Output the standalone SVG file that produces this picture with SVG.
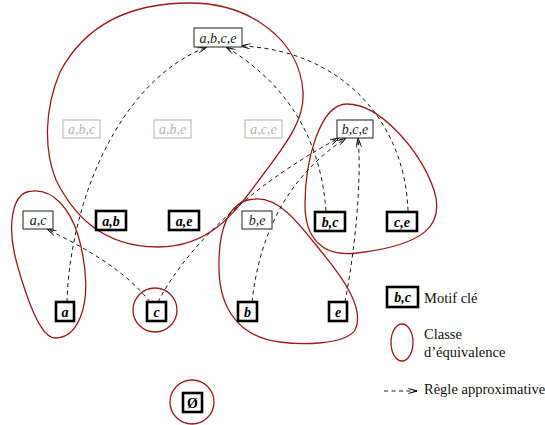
<svg xmlns="http://www.w3.org/2000/svg" width="545" height="425" viewBox="0 0 545 425">
<defs>
<marker id="ar" viewBox="0 0 10 6" refX="9.5" refY="3" markerWidth="10" markerHeight="6" markerUnits="userSpaceOnUse" orient="auto">
<path d="M0,0.3 L9.5,3 L0,5.7 M2.5,1 L9.5,3 L2.5,5" fill="none" stroke="#000" stroke-width="0.7"/>
</marker>
<style>
.k rect{fill:#fff;stroke:#000;stroke-width:2.6}
.k text{font-family:"Liberation Serif",serif;font-style:italic;font-weight:bold;font-size:14px;text-anchor:middle;fill:#000}
.n rect{fill:#fff;stroke:#333;stroke-width:1.1}
.n text{font-family:"Liberation Serif",serif;font-style:italic;font-size:14px;text-anchor:middle;fill:#222}
.g rect{fill:#fff;stroke:#bbb;stroke-width:1.1}
.g text{font-family:"Liberation Serif",serif;font-style:italic;font-size:14px;text-anchor:middle;fill:#b4b4b4}
.cls{fill:none;stroke:#9e1a1a;stroke-width:1.3}
.dash{fill:none;stroke:#000;stroke-width:0.9;stroke-dasharray:4,3.5}
.lg{font-family:"Liberation Serif",serif;font-size:14.5px;fill:#111}
</style>
</defs>
<rect width="545" height="425" fill="#fff"/>

<g id="classes">
<path class="cls" d="M190,3 C250,3 300,40 303,92 C305,120 285,145 265,172 C240,205 215,247 158,247 C100,247 72,212 56,180 C44,150 44,110 60,72 C85,25 130,3 190,3 Z"/>
<path class="cls" d="M33,191 C55,190 70,210 78,235 C88,270 88,300 80,318 C73,335 62,338 55,338 C45,338 35,320 25,290 C15,260 10,240 12,220 C14,200 22,191 33,191 Z"/>
<path class="cls" d="M347,104 C380,104 420,150 434,190 C445,225 425,245 357,253 C320,258 305,235 305,205 C305,160 320,104 347,104 Z"/>
<path class="cls" d="M255,199 C280,197 300,225 320,250 C345,280 365,310 355,330 C345,345 300,345 280,342 C240,337 220,310 219,270 C218,230 228,200 255,199 Z"/>
<circle class="cls" cx="155" cy="310" r="22"/>
<circle class="cls" cx="192" cy="402" r="22"/>
</g>

<g id="connectors">
<path class="dash" marker-end="url(#ar)" d="M67,302 C70,200 120,80 207,47"/>
<path class="dash" marker-end="url(#ar)" d="M326,211 C320,130 280,80 226,47"/>
<path class="dash" marker-end="url(#ar)" d="M408,211 C405,120 340,50 241,46"/>
<path class="dash" marker-end="url(#ar)" d="M150,302 C125,270 85,248 47,229"/>
<path class="dash" marker-end="url(#ar)" d="M158,302 C190,240 260,180 339,138"/>
<path class="dash" marker-end="url(#ar)" d="M252,302 C260,230 290,175 346,138"/>
<path class="dash" marker-end="url(#ar)" d="M345,302 C355,250 362,180 358,138"/>
</g>

<g id="n-abce" class="n"><rect x="194" y="28" width="48" height="19"/><text x="218" y="43">a,b,c,e</text></g>
<g id="n-abc" class="g"><rect x="63" y="120" width="37" height="18"/><text x="81.5" y="134">a,b,c</text></g>
<g id="n-abe" class="g"><rect x="154" y="120" width="37" height="18"/><text x="172.5" y="134">a,b,e</text></g>
<g id="n-ace" class="g"><rect x="245" y="120" width="37" height="18"/><text x="263.5" y="134">a,c,e</text></g>
<g id="n-bce" class="n"><rect x="337" y="120" width="36" height="18"/><text x="355" y="134">b,c,e</text></g>

<g id="n-ac" class="n"><rect x="23" y="211" width="30" height="18"/><text x="38" y="225">a,c</text></g>
<g id="n-ab" class="k"><rect x="96" y="211" width="30" height="19"/><text x="111" y="225.5">a,b</text></g>
<g id="n-ae" class="k"><rect x="169" y="211" width="30" height="19"/><text x="184" y="225.5">a,e</text></g>
<g id="n-be" class="n"><rect x="242" y="211" width="30" height="18"/><text x="257" y="225">b,e</text></g>
<g id="n-bc" class="k"><rect x="315" y="212" width="30" height="19"/><text x="330" y="226.5">b,c</text></g>
<g id="n-ce" class="k"><rect x="387" y="212" width="30" height="19"/><text x="402" y="226.5">c,e</text></g>

<g id="n-a" class="k"><rect x="56" y="302" width="18" height="19"/><text x="65" y="316.5">a</text></g>
<g id="n-c" class="k"><rect x="147" y="302" width="19" height="19"/><text x="156.5" y="316.5">c</text></g>
<g id="n-b" class="k"><rect x="238" y="302" width="19" height="19"/><text x="247.5" y="316.5">b</text></g>
<g id="n-e" class="k"><rect x="329" y="302" width="18" height="19"/><text x="338" y="316.5">e</text></g>
<g id="n-empty" class="k"><rect x="183" y="393" width="19" height="19"/><text x="192.5" y="408" style="font-style:normal">Ø</text></g>

<g id="legend">
<g class="k"><rect x="387" y="287" width="31" height="20"/><text x="402.5" y="302">b,c</text></g>
<text class="lg" x="424" y="303">Motif clé</text>
<ellipse class="cls" cx="402" cy="342.5" rx="11" ry="18.5"/>
<text class="lg" x="424" y="339">Classe</text>
<text class="lg" x="424" y="357">d’équivalence</text>
<path class="dash" marker-end="url(#ar)" d="M384,391 L417,391"/>
<text class="lg" x="424" y="394">Règle approximative</text>
</g>
</svg>
